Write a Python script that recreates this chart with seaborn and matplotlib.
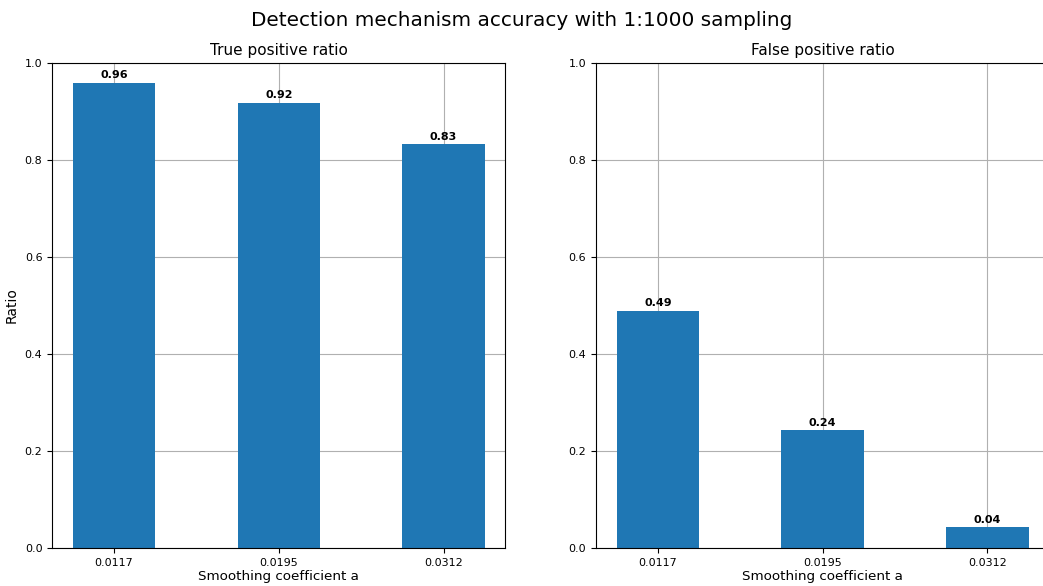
import pandas as pd
import seaborn as sns
import matplotlib
matplotlib.use("Agg")
import matplotlib.pyplot as plt

# smoothing coefficients tested (x categories)
coefficients = ["0.0117", "0.0195", "0.0312"]
true_positive = [0.959, 0.918, 0.833]
false_positive = [0.489, 0.243, 0.043]
tp_labels = ["0.96", "0.92", "0.83"]
fp_labels = ["0.49", "0.24", "0.04"]

fig, axes = plt.subplots(1, 2, figsize=(10.43, 5.86), dpi=100)
fig.subplots_adjust(left=0.05, right=1.006, top=0.8925, bottom=0.065, wspace=0.2)

panels = [
    (axes[0], true_positive, tp_labels, "True positive ratio"),
    (axes[1], false_positive, fp_labels, "False positive ratio"),
]

for ax, values, labels, title in panels:
    df = pd.DataFrame({"coef": coefficients, "ratio": values})
    sns.barplot(data=df, x="coef", y="ratio", color="#1f77b4", saturation=1,
                width=0.5, ax=ax, zorder=2)
    for i, (v, lab) in enumerate(zip(values, labels)):
        ax.text(i, v + 0.005, lab, ha="center", va="bottom",
                fontsize=8, fontweight="bold")
    ax.set_xlim(-0.375, 2.375)
    ax.set_ylim(0, 1.0)
    ax.set_yticks([0.0, 0.2, 0.4, 0.6, 0.8, 1.0])
    ax.grid(True, color="#b0b0b0", linewidth=0.8, zorder=0)
    ax.set_axisbelow(True)
    ax.tick_params(labelsize=8)
    ax.set_title(title, fontsize=11, pad=6)
    ax.set_xlabel("Smoothing coefficient a", fontsize=9.7, labelpad=2)
    ax.set_ylabel("")

# right panel runs off the canvas edge in the original
axes[1].spines["right"].set_visible(False)
axes[0].set_ylabel("Ratio", fontsize=10)
fig.suptitle("Detection mechanism accuracy with 1:1000 sampling", fontsize=14.4, y=0.982)

plt.savefig("out.png", dpi=100)
